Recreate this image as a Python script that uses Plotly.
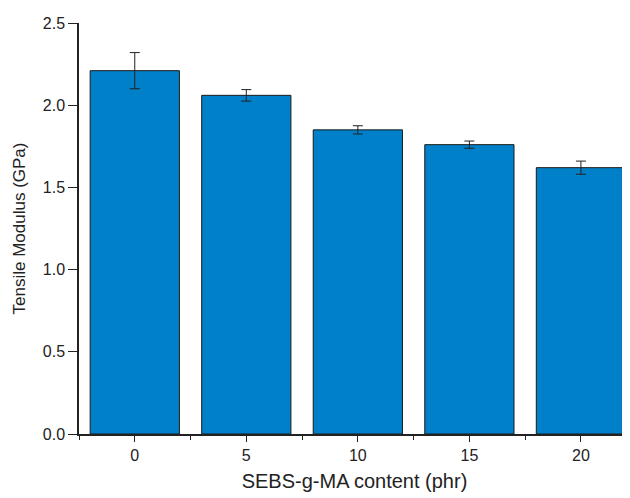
import plotly.graph_objects as go

content = [0, 5, 10, 15, 20]
modulus = [2.21, 2.06, 1.85, 1.76, 1.62]
errors = [0.11, 0.035, 0.025, 0.022, 0.04]
y_ticks = [0.0, 0.5, 1.0, 1.5, 2.0, 2.5]
y_tick_labels = ["0.0", "0.5", "1.0", "1.5", "2.0", "2.5"]

fig = go.Figure()
fig.add_trace(go.Bar(
    x=content, y=modulus, width=4,
    marker=dict(color="rgb(0,128,200)", line=dict(color="#1a1a1a", width=1)),
    error_y=dict(type="data", array=errors, visible=True, color="#222", thickness=1, width=5),
))
font = "Liberation Sans, Arial, sans-serif"
# page body has an 8px default margin, so the figure is sized to fit the 630x498 window
fig.update_layout(
    width=622, height=490,
    margin=dict(l=71, r=0, t=15, b=64),
    paper_bgcolor="white", plot_bgcolor="white",
    font=dict(family=font, color="#222", size=16),
    showlegend=False,
    xaxis=dict(
        automargin=False,
        range=[-2.5, 22.2], tickvals=content, ticktext=[str(c) for c in content],
        showline=True, linecolor="#222", linewidth=1.5,
        ticks="outside", ticklen=6, tickwidth=1.2, tickcolor="#222",
        minor=dict(tick0=0, dtick=2.5, ticks="outside", ticklen=4, tickwidth=1.2, tickcolor="#222"),
        showgrid=False, zeroline=False,
        title=dict(text="SEBS-g-MA content (phr)", font=dict(size=20), standoff=11),
    ),
    yaxis=dict(
        automargin=False,
        range=[0, 2.5], tickvals=y_ticks, ticktext=y_tick_labels,
        showline=True, linecolor="#222", linewidth=1.5,
        ticks="outside", ticklen=9, tickwidth=1.2, tickcolor="#222",
        showgrid=False, zeroline=False,
        title=dict(text="Tensile Modulus (GPa)", font=dict(size=17), standoff=13),
    ),
)
fig.write_html("out.html")
